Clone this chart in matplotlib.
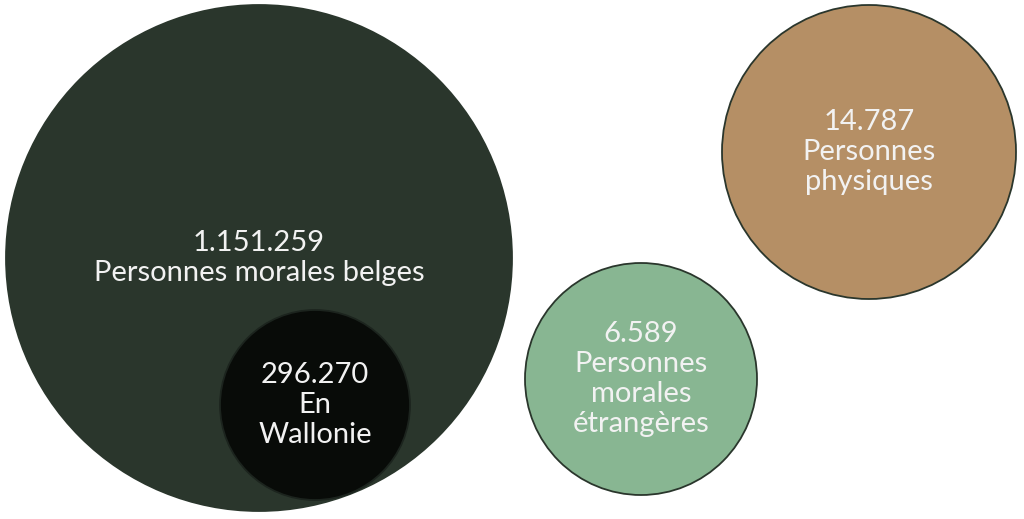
import matplotlib.pyplot as plt
from matplotlib.patches import Circle

# data
values = ["1.151.259", "296.270", "6.589", "14.787"]
labels = ["Personnes morales belges", "En\nWallonie", "Personnes\nmorales\nétrangères", "Personnes\nphysiques"]

# layout (pixel space, y down)
centers = [(259, 258), (315, 405), (641, 379), (869, 152)]
radii = [253, 95, 116, 147]
colors = ["#2a362c", "#080b08", "#88b692", "#b58f65"]
edges = ["#2a362c", "#1c241e", "#2a362c", "#2a362c"]

plt.rcParams["font.family"] = ["Lato", "DejaVu Sans"]

fig = plt.figure(figsize=(10.24, 5.19), dpi=100)
ax = fig.add_axes([0, 0, 1, 1])
ax.set_xlim(0, 1024)
ax.set_ylim(519, 0)
ax.set_aspect("equal")
ax.axis("off")

for (x, y), r, c, e, v, lab in zip(centers, radii, colors, edges, values, labels):
    ax.add_patch(Circle((x, y), r, facecolor=c, edgecolor=e, linewidth=1.3))
    ax.text(x, y, v + "\n" + lab, ha="center", va="center", color="#f2f2f2",
            fontsize=21, fontweight="normal", linespacing=1.18)

fig.savefig("out.png", dpi=100, facecolor="white")
